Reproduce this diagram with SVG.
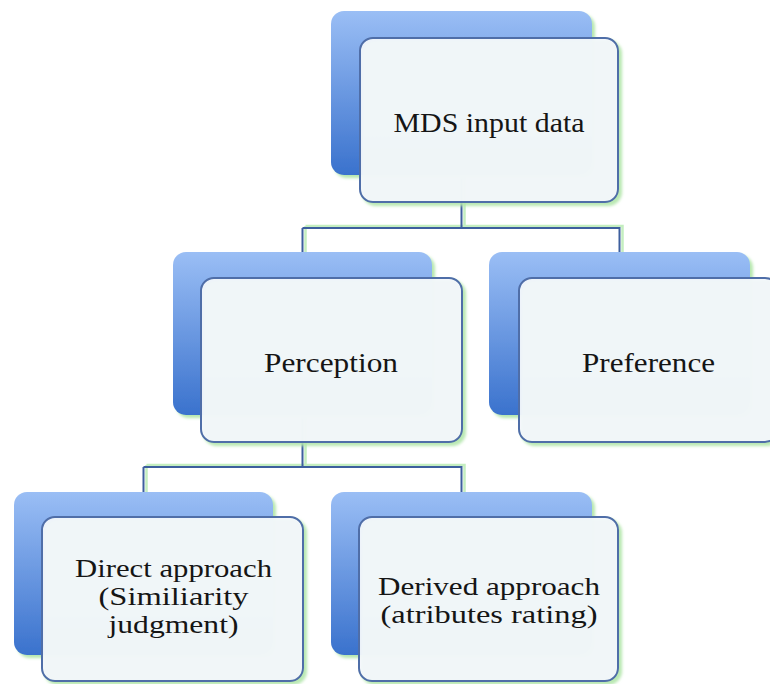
<svg xmlns="http://www.w3.org/2000/svg" width="770" height="684" viewBox="0 0 770 684">
<style>
.back{fill:url(#bg);filter:url(#gs)}
.front{fill:#f4f7fc;fill-opacity:0.93;stroke:#4f6ea8;stroke-width:2;filter:url(#gs)}
.lbl{font-family:"Liberation Serif","DejaVu Serif",serif;font-size:28px;fill:#151515;text-anchor:middle}
.sm{font-size:25px}
.con{fill:none;stroke:#3d5f9e;stroke-width:2}
.cong{fill:none;stroke:#c4eec0;stroke-width:2.5}
</style>
<defs>
<linearGradient id="bg" x1="0" y1="0" x2="0" y2="1">
<stop offset="0" stop-color="#9abef5"/>
<stop offset="1" stop-color="#3a72cd"/>
</linearGradient>
<filter id="gs" x="-10%" y="-10%" width="125%" height="125%">
<feDropShadow dx="3" dy="3" stdDeviation="1.5" flood-color="#b2e6aa" flood-opacity="0.95"/>
</filter>
</defs>
<rect width="770" height="684" fill="#ffffff"/>
<g id="connectors">
<path class="cong" d="M464.5,175 V226 M305.5,226 H622.5 V252 M305.5,226 V252 M305.5,415 V465 M146.5,465 H464.5 V492 M146.5,465 V492"/>
<path class="con" d="M461.5,175 V228 M302.5,228 H619.5 V252 M302.5,228 V252 M302.5,415 V467 M143.5,467 H461.5 V492 M143.5,467 V492"/>
</g>
<g id="node-mds">
<rect class="back" x="331" y="11" width="261" height="164" rx="13"/>
<rect class="front" x="360" y="38" width="258" height="164" rx="13"/>
<text class="lbl" x="489" y="132" textLength="191" lengthAdjust="spacingAndGlyphs">MDS input data</text>
</g>
<g id="node-perception">
<rect class="back" x="173" y="252" width="259" height="163" rx="13"/>
<rect class="front" x="201" y="278" width="261" height="164" rx="13"/>
<text class="lbl" x="331" y="372" textLength="134" lengthAdjust="spacingAndGlyphs">Perception</text>
</g>
<g id="node-preference">
<rect class="back" x="489" y="252" width="261" height="163" rx="13"/>
<rect class="front" x="519" y="278" width="259" height="164" rx="13"/>
<text class="lbl" x="648.5" y="372" textLength="133" lengthAdjust="spacingAndGlyphs">Preference</text>
</g>
<g id="node-direct">
<rect class="back" x="14" y="492" width="259" height="163" rx="13"/>
<rect class="front" x="42" y="517" width="261" height="164" rx="13"/>
<text class="lbl sm" x="173.5" y="577" textLength="197" lengthAdjust="spacingAndGlyphs">Direct approach</text>
<text class="lbl sm" x="173.5" y="605" textLength="150" lengthAdjust="spacingAndGlyphs">(Similiarity</text>
<text class="lbl sm" x="173.5" y="633" textLength="130" lengthAdjust="spacingAndGlyphs">judgment)</text>
</g>
<g id="node-derived">
<rect class="back" x="331" y="492" width="261" height="163" rx="13"/>
<rect class="front" x="359" y="517" width="259" height="164" rx="13"/>
<text class="lbl sm" x="489" y="595" textLength="222" lengthAdjust="spacingAndGlyphs">Derived approach</text>
<text class="lbl sm" x="489" y="623" textLength="217" lengthAdjust="spacingAndGlyphs">(atributes rating)</text>
</g>
</svg>
